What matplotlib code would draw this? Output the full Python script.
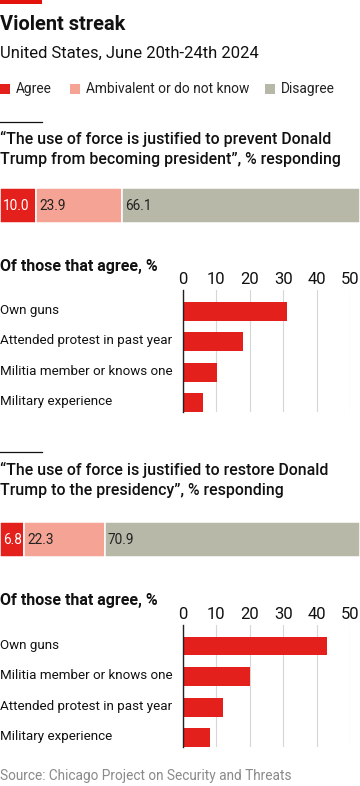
import matplotlib
matplotlib.use("Agg")
import matplotlib.pyplot as plt
from matplotlib.patches import Rectangle
from matplotlib.lines import Line2D

W, H = 360, 786

legend_labels = ["Agree", "Ambivalent or do not know", "Disagree"]
seg_colors = ["#e3201b", "#f5a394", "#b8b8a8"]
seg_text_colors = ["white", "#222222", "#222222"]

prevent_q = "\u201cThe use of force is justified to prevent Donald\nTrump from becoming president\u201d, % responding"
prevent_shares = [10.0, 23.9, 66.1]
prevent_traits = ["Own guns", "Attended protest in past year",
                  "Militia member or knows one", "Military experience"]
prevent_values = [31.1, 18.0, 10.1, 6.0]

restore_q = "\u201cThe use of force is justified to restore Donald\nTrump to the presidency\u201d, % responding"
restore_shares = [6.8, 22.3, 70.9]
restore_traits = ["Own guns", "Militia member or knows one",
                  "Attended protest in past year", "Military experience"]
restore_values = [43.1, 20.0, 12.0, 8.1]

ticks = [0, 10, 20, 30, 40, 50]

FONT = "Roboto"
plt.rcParams["font.family"] = [FONT, "DejaVu Sans"]

fig = plt.figure(figsize=(W / 100, H / 100), dpi=100)


def fx(x):
    return x / W


def fy(y):
    return 1 - y / H


def px_axes(x0, y0, x1, y1):
    return fig.add_axes([fx(x0), fy(y1), (x1 - x0) / W, (y1 - y0) / H])


def text(x, y, s, **kw):
    fig.text(fx(x), fy(y), s, **kw)


def stacked(y0, y1, shares):
    ax = px_axes(0, y0, W, y1)
    left = 0
    for share, col, tcol in zip(shares, seg_colors, seg_text_colors):
        ax.barh(0, share, left=left, height=1, color=col, edgecolor="white", linewidth=1.1)
        ax.text(left + 0.9, 0, f"{share:.1f}", color=tcol, fontsize=9.8,
                va="center", ha="left")
        left += share
    ax.set_xlim(0, 100)
    ax.set_ylim(-0.5, 0.5)
    ax.axis("off")


def traits_chart(y_top, y_bot, traits, values):
    ax = px_axes(183, y_top, 350, y_bot)
    pos = list(range(len(traits)))
    ax.barh(pos, values, height=0.62, color=seg_colors[0], zorder=3)
    ax.set_xlim(0, 50)
    ax.set_ylim(3.31, -0.69)
    ax.set_xticks(ticks)
    ax.xaxis.tick_top()
    ax.tick_params(axis="x", length=0, pad=2, labelsize=12, labelcolor="#111111")
    ax.set_yticks([])
    ax.grid(axis="x", color="#d6d6d6", linewidth=0.8, zorder=0)
    for s in ["top", "right", "bottom"]:
        ax.spines[s].set_visible(False)
    ax.spines["left"].set_color("#222222")
    ax.spines["left"].set_linewidth(1.0)
    ax.spines["left"].set_zorder(4)
    for p, t in zip(pos, traits):
        ax.text(-183 / 167 * 50, p - 0.03, t, fontsize=9.6, va="center", ha="left",
                color="#111111", transform=ax.transData, clip_on=False)


# top red tag
fig.add_artist(Rectangle((0, fy(4)), fx(42), 4 / H, color="#e3120b",
                         transform=fig.transFigure, lw=0))

text(0, 24, "Violent streak", fontsize=14.4, weight="bold", va="center", color="#111111")
text(0, 53, "United States, June 20th-24th 2024", fontsize=12, va="center", color="#111111")

# legend
leg_x = [0, 70, 265]
for lx, lab, col in zip(leg_x, legend_labels, seg_colors):
    fig.add_artist(Rectangle((fx(lx), fy(93.5)), 10 / W, 9.5 / H, color=col,
                             transform=fig.transFigure, lw=0))
    text(lx + 16, 89, lab, fontsize=9.9, va="center", color="#222222")


def divider(y):
    fig.add_artist(Line2D([0, fx(42)], [fy(y), fy(y)], color="#111111", lw=0.9,
                          transform=fig.transFigure))


divider(122)
text(0, 149, prevent_q, fontsize=11.4, weight="medium", va="center",
     linespacing=1.35, color="#111111")
stacked(188, 223, prevent_shares)
text(0, 266, "Of those that agree, %", fontsize=11.5, weight="bold", va="center", color="#111111")
traits_chart(290, 412, prevent_traits, prevent_values)

divider(452)
text(0, 480, restore_q, fontsize=11.4, weight="medium", va="center",
     linespacing=1.35, color="#111111")
stacked(522, 557, restore_shares)
text(0, 601, "Of those that agree, %", fontsize=11.5, weight="bold", va="center", color="#111111")
traits_chart(625, 747, restore_traits, restore_values)

text(0, 776, "Source: Chicago Project on Security and Threats", fontsize=9.8,
     va="center", color="#8a8a8a")

fig.savefig("out.png", dpi=100)
